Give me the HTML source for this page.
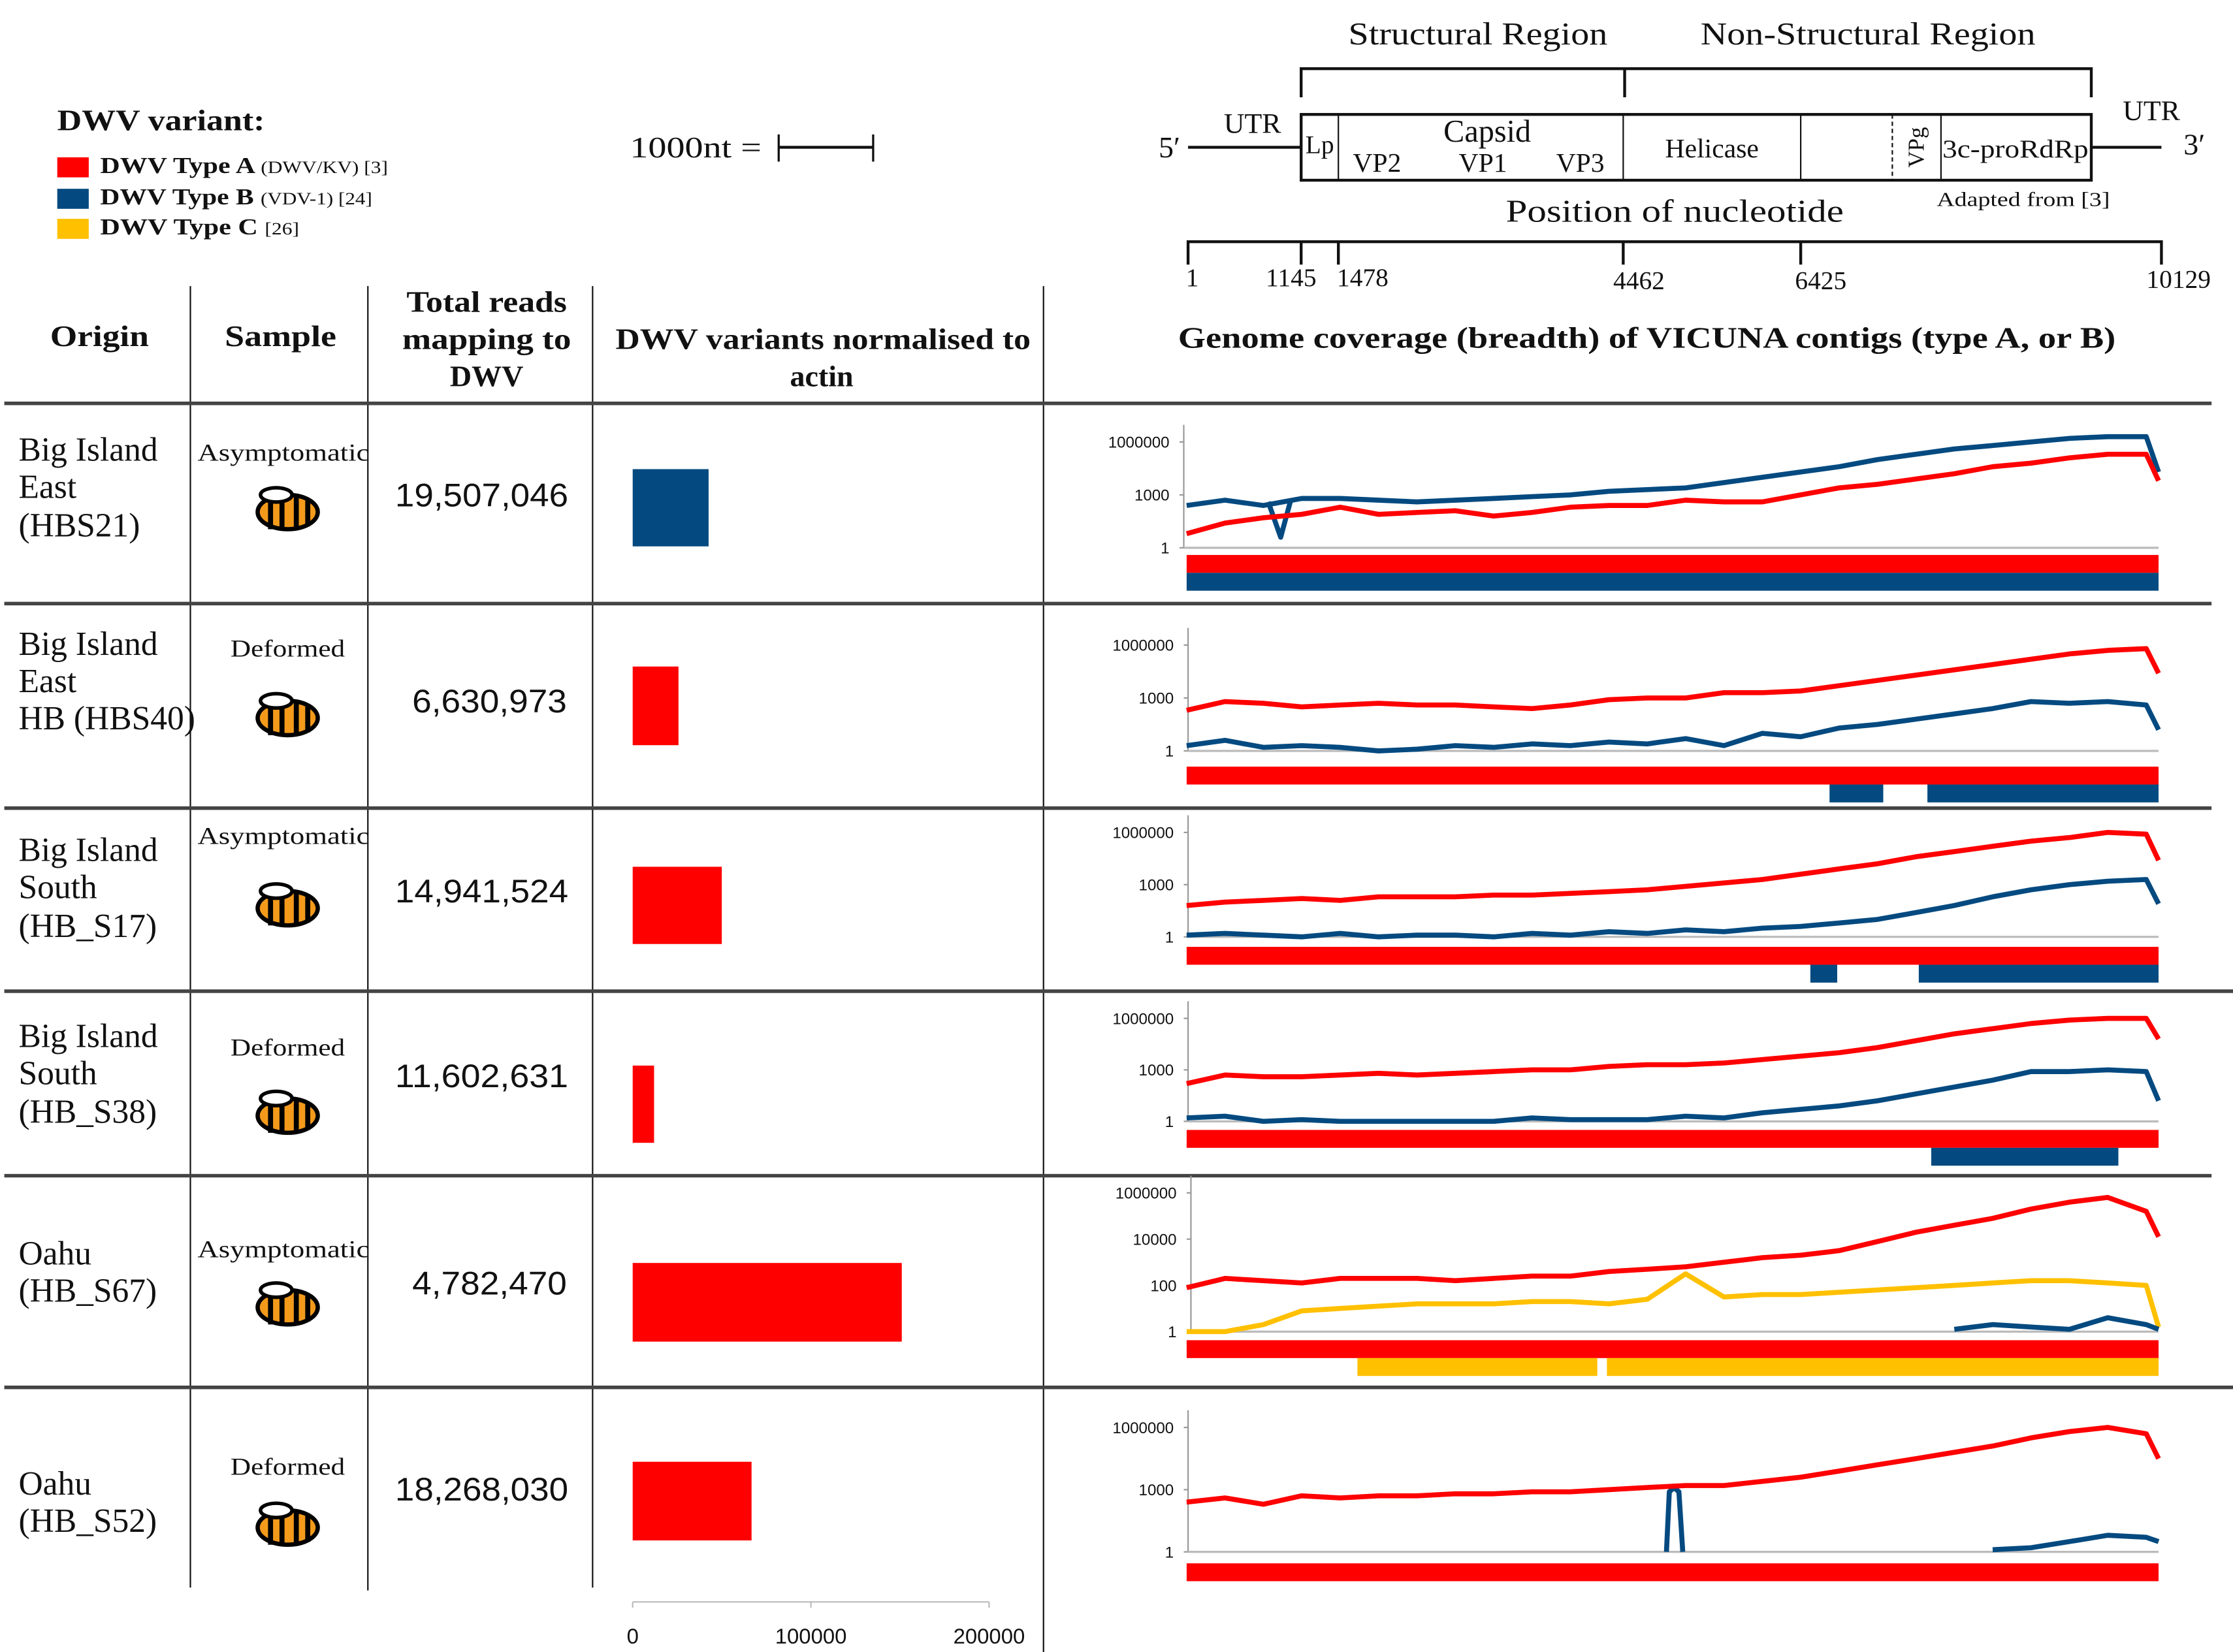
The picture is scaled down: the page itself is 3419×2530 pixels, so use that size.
<!DOCTYPE html>
<html><head><meta charset="utf-8"><style>
html,body{margin:0;padding:0;background:#fff}
svg{display:block}
.s{font-family:"Liberation Serif",serif;fill:#111}
.n{font-family:"Liberation Sans",sans-serif;fill:#111}
</style></head><body>
<svg id="fig" xmlns="http://www.w3.org/2000/svg" width="3419" height="2530" viewBox="0 0 1560 1155" preserveAspectRatio="none">
<rect width="1560" height="1155" fill="#fff"/>
<g>
<text class="s" x="40" y="91" font-size="21" font-weight="bold" textLength="145" lengthAdjust="spacingAndGlyphs">DWV variant:</text>
<rect x="40" y="110" width="22" height="14" fill="#ff0000"/>
<text class="s" x="70" y="121" font-size="16" font-weight="bold" textLength="201" lengthAdjust="spacingAndGlyphs">DWV Type A <tspan font-size="12" font-weight="normal">(DWV/KV) [3]</tspan></text>
<rect x="40" y="132" width="22" height="14" fill="#044a80"/>
<text class="s" x="70" y="143" font-size="16" font-weight="bold" textLength="190" lengthAdjust="spacingAndGlyphs">DWV Type B <tspan font-size="12" font-weight="normal">(VDV-1) [24]</tspan></text>
<rect x="40" y="153" width="22" height="14" fill="#ffc000"/>
<text class="s" x="70" y="164" font-size="16" font-weight="bold" textLength="139" lengthAdjust="spacingAndGlyphs">DWV Type C <tspan font-size="12" font-weight="normal">[26]</tspan></text>
</g>
<g>
<text class="s" x="440" y="110" font-size="21" textLength="92" lengthAdjust="spacingAndGlyphs">1000nt =</text>
<line x1="544" y1="103" x2="610" y2="103" stroke="#111" stroke-width="2"/>
<line x1="544" y1="94" x2="544" y2="113" stroke="#111" stroke-width="1.5"/>
<line x1="610" y1="94" x2="610" y2="113" stroke="#111" stroke-width="1.5"/>
</g>
<g stroke="#111" fill="none">
<path d="M909 68V48H1461V68M1135 48V68" stroke-width="2"/>
<rect x="909" y="80" width="552" height="46" stroke-width="2"/>
<line x1="935" y1="80" x2="935" y2="126"/>
<line x1="1134" y1="80" x2="1134" y2="126"/>
<line x1="1258" y1="80" x2="1258" y2="126"/>
<line x1="1322" y1="80" x2="1322" y2="126" stroke-dasharray="3,2"/>
<line x1="1356" y1="80" x2="1356" y2="126"/>
<line x1="830" y1="103" x2="909" y2="103" stroke-width="2"/>
<line x1="1461" y1="103" x2="1510" y2="103" stroke-width="2"/>
<path d="M830 185V169H1510V185M909 169V185M935 169V185M1134 169V185M1258 169V185" stroke-width="2"/>
</g>
<g>
<text class="s" x="942" y="31" font-size="22" textLength="181" lengthAdjust="spacingAndGlyphs">Structural Region</text>
<text class="s" x="1188" y="31" font-size="22" textLength="234" lengthAdjust="spacingAndGlyphs">Non-Structural Region</text>
<text class="s" x="817" y="110" font-size="21" text-anchor="middle">5′</text>
<text class="s" x="875" y="93" font-size="20" text-anchor="middle">UTR</text>
<text class="s" x="1503" y="84" font-size="20" text-anchor="middle">UTR</text>
<text class="s" x="1533" y="108" font-size="21" text-anchor="middle">3′</text>
<text class="s" x="922" y="107" font-size="18" text-anchor="middle">Lp</text>
<text class="s" x="1039" y="99" font-size="22" text-anchor="middle">Capsid</text>
<text class="s" x="962" y="120" font-size="19" text-anchor="middle">VP2</text>
<text class="s" x="1036" y="120" font-size="19" text-anchor="middle">VP1</text>
<text class="s" x="1104" y="120" font-size="19" text-anchor="middle">VP3</text>
<text class="s" x="1196" y="110" font-size="19" text-anchor="middle">Helicase</text>
<text class="s" x="1339" y="103" font-size="16" text-anchor="middle" transform="rotate(-90 1339 103)" dy="5">VPg</text>
<text class="s" x="1357" y="110" font-size="18" textLength="102" lengthAdjust="spacingAndGlyphs">3c-proRdRp</text>
<text class="s" x="1052" y="155" font-size="22" textLength="236" lengthAdjust="spacingAndGlyphs">Position of nucleotide</text>
<text class="s" x="1353" y="144" font-size="14" textLength="121" lengthAdjust="spacingAndGlyphs">Adapted from [3]</text>
<text class="s" x="833" y="200" font-size="18" text-anchor="middle">1</text>
<text class="s" x="902" y="200" font-size="18" text-anchor="middle">1145</text>
<text class="s" x="952" y="200" font-size="18" text-anchor="middle">1478</text>
<text class="s" x="1145" y="202" font-size="18" text-anchor="middle">4462</text>
<text class="s" x="1272" y="202" font-size="18" text-anchor="middle">6425</text>
<text class="s" x="1522" y="201" font-size="18" text-anchor="middle">10129</text>
</g>
<g stroke="#111">
<line x1="133" y1="200" x2="133" y2="1110"/>
<line x1="257" y1="200" x2="257" y2="1112"/>
<line x1="414" y1="200" x2="414" y2="1110"/>
<line x1="729" y1="200" x2="729" y2="1160"/>
<g stroke="#444" stroke-width="2.5">
<line x1="3" y1="282" x2="1545" y2="282"/>
<line x1="3" y1="422" x2="1545" y2="422"/>
<line x1="3" y1="565" x2="1545" y2="565"/>
<line x1="3" y1="693" x2="1560" y2="693"/>
<line x1="3" y1="822" x2="1545" y2="822"/>
<line x1="3" y1="970" x2="1560" y2="970"/>
</g>
</g>
<g>
<text class="s" x="35" y="242" font-size="21" font-weight="bold" textLength="69" lengthAdjust="spacingAndGlyphs">Origin</text>
<text class="s" x="157" y="242" font-size="21" font-weight="bold" textLength="78" lengthAdjust="spacingAndGlyphs">Sample</text>
<text class="s" x="284" y="218" font-size="21" font-weight="bold" textLength="112" lengthAdjust="spacingAndGlyphs">Total reads</text>
<text class="s" x="281" y="244" font-size="21" font-weight="bold" textLength="118" lengthAdjust="spacingAndGlyphs">mapping to</text>
<text class="s" x="340" y="270" font-size="21" font-weight="bold" text-anchor="middle">DWV</text>
<text class="s" x="430" y="244" font-size="21" font-weight="bold" textLength="290" lengthAdjust="spacingAndGlyphs">DWV variants normalised to</text>
<text class="s" x="574" y="270" font-size="21" font-weight="bold" text-anchor="middle">actin</text>
<text class="s" x="823" y="243" font-size="21" font-weight="bold" textLength="655" lengthAdjust="spacingAndGlyphs">Genome coverage (breadth) of VICUNA contigs (type A, or B)</text>
</g>
<g id="rows"></g>
<g id="bars"></g>
<g id="cov"></g>
</svg>
<script>
const NS="http://www.w3.org/2000/svg";
// table data
const origins=[["Big Island","East","(HBS21)"],["Big Island","East","HB (HBS40)"],["Big Island","South","(HB_S17)"],["Big Island","South","(HB_S38)"],["Oahu","(HB_S67)"],["Oahu","(HB_S52)"]];
const samples=["Asymptomatic","Deformed","Asymptomatic","Deformed","Asymptomatic","Deformed"];
const totalReads=["19,507,046","6,630,973","14,941,524","11,602,631","4,782,470","18,268,030"];
// normalised bar values
const normValues=[42600,25700,50000,12000,151000,66700];
const normColors=["#044a80","#ff0000","#ff0000","#ff0000","#ff0000","#ff0000"];
const normTicks=[0,100000,200000];
// coverage data: log10 depth at nucleotide positions
const positions=[0,400,800,1200,1600,2000,2400,2800,3200,3600,4000,4400,4800,5200,5600,6000,6400,6800,7200,7600,8000,8400,8800,9200,9600,10000,10129];
const red1=[0.8,1.4,1.7,1.9,2.3,1.9,2.0,2.1,1.8,2.0,2.3,2.4,2.4,2.7,2.6,2.6,3.0,3.4,3.6,3.9,4.2,4.6,4.8,5.1,5.3,5.3,3.8];
const blue1=[2.4,2.7,2.4,2.8,2.8,2.7,2.6,2.7,2.8,2.9,3.0,3.2,3.3,3.4,3.7,4.0,4.3,4.6,5.0,5.3,5.6,5.8,6.0,6.2,6.3,6.3,4.3];
const blue1DipPos=[850,980,1080];
const blue1Dip=[2.6,0.6,2.6];
const red2=[2.3,2.8,2.7,2.5,2.6,2.7,2.6,2.6,2.5,2.4,2.6,2.9,3.0,3.0,3.3,3.3,3.4,3.7,4.0,4.3,4.6,4.9,5.2,5.5,5.7,5.8,4.4];
const blue2=[0.3,0.6,0.2,0.3,0.2,0,0.1,0.3,0.2,0.4,0.3,0.5,0.4,0.7,0.3,1.0,0.8,1.3,1.5,1.8,2.1,2.4,2.8,2.7,2.8,2.6,1.2];
const red3=[1.8,2.0,2.1,2.2,2.1,2.3,2.3,2.3,2.4,2.4,2.5,2.6,2.7,2.9,3.1,3.3,3.6,3.9,4.2,4.6,4.9,5.2,5.5,5.7,6.0,5.9,4.4];
const blue3=[0.1,0.2,0.1,0,0.2,0,0.1,0.1,0,0.2,0.1,0.3,0.2,0.4,0.3,0.5,0.6,0.8,1.0,1.4,1.8,2.3,2.7,3.0,3.2,3.3,1.9];
const red4=[2.2,2.7,2.6,2.6,2.7,2.8,2.7,2.8,2.9,3.0,3.0,3.2,3.3,3.3,3.4,3.6,3.8,4.0,4.3,4.7,5.1,5.4,5.7,5.9,6.0,6.0,4.8];
const blue4=[0.2,0.3,0,0.1,0,0,0,0,0,0.2,0.1,0.1,0.1,0.3,0.2,0.5,0.7,0.9,1.2,1.6,2.0,2.4,2.9,2.9,3.0,2.9,1.2];
const red5=[1.9,2.3,2.2,2.1,2.3,2.3,2.3,2.2,2.3,2.4,2.4,2.6,2.7,2.8,3.0,3.2,3.3,3.5,3.9,4.3,4.6,4.9,5.3,5.6,5.8,5.2,4.1];
const yellow5=[0,0,0.3,0.9,1.0,1.1,1.2,1.2,1.2,1.3,1.3,1.2,1.4,2.5,1.5,1.6,1.6,1.7,1.8,1.9,2.0,2.1,2.2,2.2,2.1,2.0,0.2];
const blue5=[null,null,null,null,null,null,null,null,null,null,null,null,null,null,null,null,null,null,null,null,0.1,0.3,0.2,0.1,0.6,0.3,0.1];
const red6=[2.4,2.6,2.3,2.7,2.6,2.7,2.7,2.8,2.8,2.9,2.9,3.0,3.1,3.2,3.2,3.4,3.6,3.9,4.2,4.5,4.8,5.1,5.5,5.8,6.0,5.7,4.5];
const blue6=[null,null,null,null,null,null,null,null,null,null,null,null,null,null,null,null,null,null,null,null,null,0.1,0.2,0.5,0.8,0.7,0.5];
const blue6SpikePos=[5000,5030,5080,5130,5170];
const blue6Spike=[0,2.9,3.1,2.9,0];
const redSeries=[red1,red2,red3,red4,red5,red6];
const otherSeries=[[blue1],[blue2],[blue3],[blue4],[yellow5,blue5],[blue6]];
const otherColors=[["#044a80"],["#044a80"],["#044a80"],["#044a80"],["#ffc000","#044a80"],["#044a80"]];
// contig coverage bars: [start, end] in nucleotides
const redContigs=[[[0,10129]],[[0,10129]],[[0,10129]],[[0,10129]],[[0,10129]],[[0,10129]]];
const lowerContigs=[[[0,10129]],[[6700,7260],[7720,10129]],[[6500,6780],[7630,10129]],[[7760,9710]],[[1780,4280],[4380,10129]],[]];
const lowerColors=["#044a80","#044a80","#044a80","#044a80","#ffc000","#044a80"];
const tickLabels=[["1","1000","1000000"],["1","1000","1000000"],["1","1000","1000000"],["1","1000","1000000"],["1","100","10000","1000000"],["1","1000","1000000"]];
const tickLogs=[[0,3,6],[0,3,6],[0,3,6],[0,3,6],[0,2,4,6],[0,3,6]];

// layout (not data)
const originY=[[322,348,375],[458,484,510],[602,628,655],[732,758,785],[884,910],[1045,1071]];
const sampleY=[322,459,590,738,879,1031];
const beeY=[356,500,633,778,912,1066];
const readsY=[354,498,631,760,905,1049];
const barBox=[[328,382],[466,521],[606,660],[745,799],[883,938],[1022,1077]];
const chartY=[[309,383],[451,525],[582,655],[712,784],[834,931],[998,1085]];
const chartAxisX=[827,830,830,830,832,830];
const contigY=[388,536,662,790,937,1093];

function el(tag,attrs,parent){const e=document.createElementNS(NS,tag);for(const k in attrs)e.setAttribute(k,attrs[k]);parent.appendChild(e);return e;}
const rows=document.getElementById('rows'),bars=document.getElementById('bars'),cov=document.getElementById('cov');

for(let i=0;i<6;i++){
  origins[i].forEach((t,j)=>{const tx=el('text',{class:'s',x:13,y:originY[i][j],'font-size':23.5},rows);tx.textContent=t;
    
    });
  const asym=samples[i]=="Asymptomatic";
  const st=el('text',asym?{class:'s',x:138,y:sampleY[i],'font-size':17,textLength:120,lengthAdjust:'spacingAndGlyphs'}:{class:'s',x:161,y:sampleY[i],'font-size':17,textLength:80,lengthAdjust:'spacingAndGlyphs'},rows);st.textContent=samples[i];
  
  
  const bee=el('g',{transform:`translate(201 ${beeY[i]})`},rows);
  
  
  el('ellipse',{cx:0,cy:2,rx:21,ry:12,fill:'#f39a1b',stroke:'#000','stroke-width':3},bee);
  el('path',{d:'M-12 -8V14M-4 -10V14M6 -9V14M14 -6V12',stroke:'#000','stroke-width':3.5},bee);
  el('ellipse',{cx:-8,cy:-10,rx:11,ry:5,fill:'#fff',stroke:'#000','stroke-width':2.5},bee);
  const rt=el('text',{class:'n',x:276,y:readsY[i],'font-size':23,textLength:121,lengthAdjust:'spacingAndGlyphs'},rows);rt.textContent=totalReads[i];
  if(totalReads[i].length<10){rt.setAttribute('x',288);rt.setAttribute('textLength',108);}
  
  
}
const bx=v=>442+v/200000*249;
for(let i=0;i<6;i++){
  const r=el('rect',{x:bx(0),y:barBox[i][0],width:bx(normValues[i])-bx(0),height:barBox[i][1]-barBox[i][0],fill:normColors[i]},bars);
  
  
}
el('line',{x1:442,y1:1120,x2:691,y2:1120,stroke:'#bbb'},bars);
normTicks.forEach(t=>{el('line',{x1:bx(t),y1:1120,x2:bx(t),y2:1124,stroke:'#bbb'},bars);
  const tx=el('text',{class:'n',x:bx(t),y:1149,'font-size':15,'text-anchor':'middle'},bars);tx.textContent=t;
  
  });
const gx=nt=>829+nt/10129*679;
for(let i=0;i<6;i++){
  const top=chartY[i][0],bot=chartY[i][1];
  const ly=v=>bot-v/6*(bot-top);
  const g=el('g',{},cov);
  
  
  el('line',{x1:chartAxisX[i],y1:top-12,x2:chartAxisX[i],y2:bot,stroke:'#999'},g);
  el('line',{x1:chartAxisX[i],y1:bot,x2:gx(10129),y2:bot,stroke:'#bbb','stroke-width':1.5},g);
  tickLogs[i].forEach((t,j)=>{el('line',{x1:chartAxisX[i]-3,y1:ly(t),x2:chartAxisX[i],y2:ly(t),stroke:'#999'},g);
    const tx=el('text',{class:'n',x:chartAxisX[i]-10,y:ly(t)+4,'font-size':11,'text-anchor':'end'},g);tx.textContent=tickLabels[i][j];
    
    });
  const draw=(pos,arr,col)=>{let d='',pen=false;arr.forEach((v,k)=>{if(v===null){pen=false;return;}d+=(pen?'L':'M')+gx(pos[k]).toFixed(1)+' '+ly(v).toFixed(1);pen=true;});
    const p=el('path',{d:d,fill:'none',stroke:col,'stroke-width':3.5,'stroke-linejoin':'round'},g);
    
    };
  otherSeries[i].forEach((s,j)=>draw(positions,s,otherColors[i][j]));
  if(i===0)draw(blue1DipPos,blue1Dip,'#044a80');
  if(i===5)draw(blue6SpikePos,blue6Spike,'#044a80');
  draw(positions,redSeries[i],'#ff0000');
  redContigs[i].forEach(c=>{const r=el('rect',{x:gx(c[0]),y:contigY[i],width:gx(c[1])-gx(c[0]),height:12.5,fill:'#ff0000'},g);
    
    });
  lowerContigs[i].forEach(c=>{const r=el('rect',{x:gx(c[0]),y:contigY[i]+12.5,width:gx(c[1])-gx(c[0]),height:12.5,fill:lowerColors[i]},g);
    
    });
}
</script>
</body></html>
